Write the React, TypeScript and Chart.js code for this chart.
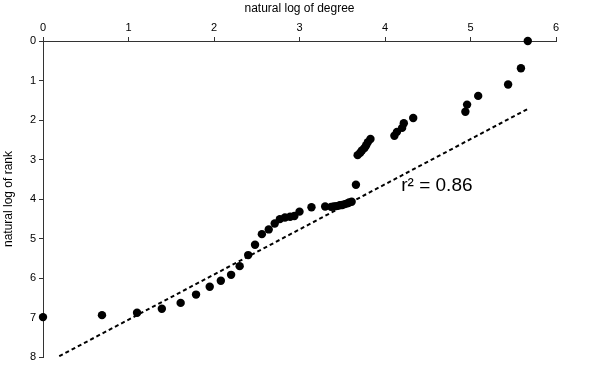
import React, { useEffect, useRef } from "react";
import { Chart, registerables } from "chart.js";

Chart.register(...registerables);

// ln(degree)
const degreeLn = [
  0.0, 0.69, 1.1, 1.39, 1.61, 1.79, 1.95, 2.08, 2.2, 2.3, 2.4, 2.48, 2.56, 2.64, 2.71, 2.77,
  2.83, 2.89, 2.94, 3.0, 3.14, 3.3, 3.37, 3.4, 3.43, 3.47, 3.5, 3.53, 3.56, 3.58, 3.61, 3.66,
  3.68, 3.71, 3.73, 3.76, 3.78, 3.8, 3.83, 4.11, 4.14, 4.2, 4.22, 4.33, 4.94, 4.96, 5.09, 5.44,
  5.59, 5.67,
];
// ln(rank)
const rankLn = [
  6.99, 6.94, 6.88, 6.78, 6.63, 6.42, 6.22, 6.07, 5.92, 5.7, 5.42, 5.16, 4.89, 4.77, 4.62, 4.51,
  4.47, 4.45, 4.43, 4.32, 4.21, 4.19, 4.2, 4.19, 4.18, 4.16, 4.15, 4.13, 4.11, 4.09, 4.07, 3.64,
  2.89, 2.83, 2.77, 2.71, 2.64, 2.56, 2.48, 2.4, 2.3, 2.2, 2.08, 1.95, 1.79, 1.61, 1.39, 1.1,
  0.69, 0.0,
];
// fitted line end points
const fitX = [0.19, 5.67];
const fitY = [7.98, 1.72];
const annotationText = "r\u00B2 = 0.86";
const annotationPos = [4.19, 3.67];

const xTitle = "natural log of degree";
const yTitle = "natural log of rank";

export default function App() {
  const ref = useRef<HTMLCanvasElement | null>(null);
  useEffect(() => {
    if (!ref.current) return;
    const textPlugin = {
      id: "r2text",
      afterDatasetsDraw(chart: any) {
        const ctx = chart.ctx;
        const x = chart.scales.x.getPixelForValue(annotationPos[0]);
        const y = chart.scales.y.getPixelForValue(annotationPos[1]);
        ctx.save();
        ctx.fillStyle = "#000";
        ctx.font = "19px 'Liberation Sans', Arial, sans-serif";
        ctx.textAlign = "left";
        ctx.textBaseline = "middle";
        ctx.fillText(annotationText, x, y);
        ctx.restore();
      },
    };
    const font = { family: "'Liberation Sans', Arial, sans-serif", size: 11 };
    const chart = new Chart(ref.current, {
      type: "scatter",
      data: {
        datasets: [
          {
            data: degreeLn.map((v, i) => ({ x: v, y: rankLn[i] })),
            backgroundColor: "#000",
            borderWidth: 0,
            pointRadius: 4.2,
            clip: false,
          } as any,
          {
            type: "line",
            data: fitX.map((v, i) => ({ x: v, y: fitY[i] })),
            borderColor: "#000",
            borderWidth: 2,
            borderDash: [4, 3],
            pointRadius: 0,
            fill: false,
          } as any,
        ],
      },
      options: {
        responsive: false,
        animation: false,
        layout: { padding: { right: 44, bottom: 13, left: 0, top: 0 } },
        plugins: { legend: { display: false }, tooltip: { enabled: false } },
        scales: {
          x: {
            type: "linear",
            position: "top",
            min: 0,
            max: 6,
            ticks: { stepSize: 1, color: "#000", font, padding: 2 },
            grid: { drawOnChartArea: false, drawTicks: true, tickLength: 4, color: "#333" },
            border: { color: "#333", width: 1 },
            title: {
              display: true,
              text: xTitle,
              color: "#000",
              font: { family: font.family, size: 12 },
              padding: { top: 1, bottom: 2 },
            },
            afterFit(scale: any) {
              scale.height = 41;
            },
          },
          y: {
            type: "linear",
            reverse: true,
            min: 0,
            max: 8,
            ticks: { stepSize: 1, color: "#000", font, padding: 3 },
            grid: { drawOnChartArea: false, drawTicks: true, tickLength: 4, color: "#333" },
            border: { color: "#333", width: 1 },
            title: {
              display: true,
              text: yTitle,
              color: "#000",
              font: { family: font.family, size: 12 },
              padding: { top: 1, bottom: 0 },
            },
            afterFit(scale: any) {
              scale.width = 43;
            },
          },
        },
      },
      plugins: [textPlugin],
    });
    return () => chart.destroy();
  }, []);
  return (
    <div style={{ position: "fixed", left: 0, top: 0, width: 600, height: 370, background: "#fff" }}>
      <canvas ref={ref} width={600} height={370} />
    </div>
  );
}
